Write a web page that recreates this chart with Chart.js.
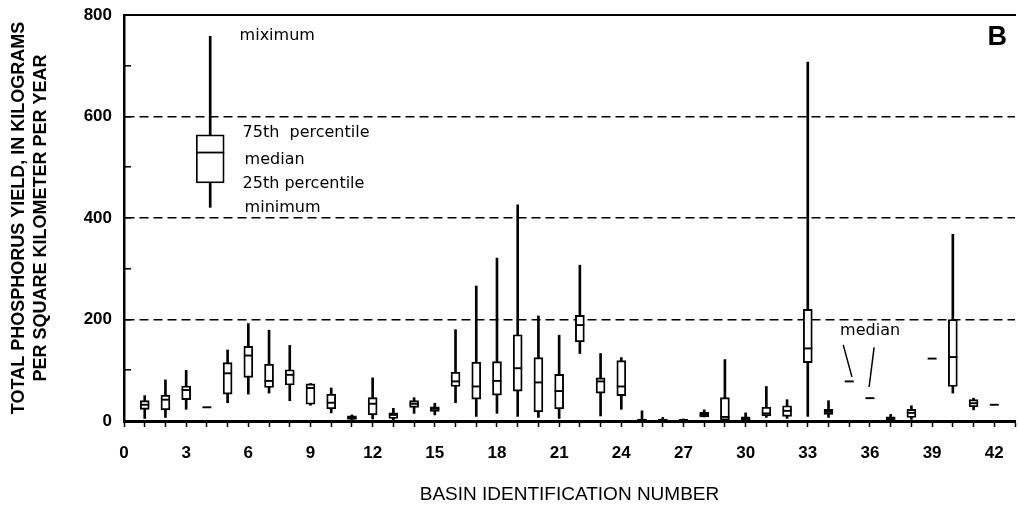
<!DOCTYPE html>
<html>
<head>
    <meta charset="UTF-8">
    <title>Total phosphorus yield by basin</title>
    <script src="https://cdn.jsdelivr.net/npm/chart.js@4.4.1/dist/chart.umd.min.js"></script>
    <style>
        html, body { margin: 0; padding: 0; background: #fff; }
        #wrap { width: 1018px; height: 508px; position: relative; }
    </style>
</head>
<body>

<div id="wrap">
    <canvas id="myChart"></canvas>
</div>

<script>
    // values, one entry per basin
    var basins  = [1,2,3,4,5,6,7,8,9,10,11,12,13,14,15,16,17,18,19,20,21,22,23,24,25,26,27,28,29,30,31,32,33,34,35,36,37,38,39,40,41,42];
    var minVals = [5,7,23,27,36,53,55,40,31,16,1,4,1,15,12,36,9,15,9,7,5,133,10,23,0,0,1,8,0,1,7,5,9,7,78,45,1,3,123,55,22,32];
    var q1Vals  = [23,22,42,27,53,86,66,71,33,24,3,12,5,27,19,68,43,51,59,18,24,156,55,50,1,1,1,8,2,2,10,9,115,13,78,45,2,7,123,68,28,32];
    var medVals = [32,42,61,27,94,129,79,91,65,36,6,34,12,34,24,78,68,79,104,76,59,189,78,68,2,2,2,12,8,4,15,20,143,18,78,45,5,16,123,126,35,32];
    var q3Vals  = [40,51,69,27,115,147,112,101,73,53,10,46,16,40,28,96,116,117,170,125,92,208,85,119,4,4,3,17,46,8,27,30,220,23,78,45,8,23,123,200,42,32];
    var maxVals = [50,81,100,27,140,192,179,149,74,65,12,85,25,46,35,180,266,321,426,207,169,307,133,125,20,7,4,22,121,16,68,42,707,40,78,45,13,30,123,368,45,32];

    // explanation box drawn in the upper left: min, q1, median, q3, max
    var legendX = 4.16;
    var legendStats = [421, 469, 529, 564, 758];
    var legendLabels = ['miximum', '75th  percentile', 'median', '25th percentile', 'minimum'];
    var medianNote = 'median';

    var xTickLabels = [0,3,6,9,12,15,18,21,24,27,30,33,36,39,42];
    var yTickLabels = [0,200,400,600,800];
    var dashedAt = [200,400,600];

    function pairs(lo, hi) {
        return basins.map(function(b, i) { return {x: b, y: [lo[i], hi[i]]}; });
    }

    // no extra room for edge labels, the plot runs right up to the frame
    function noEdgePad(s) {
        s.paddingLeft = 0; s.paddingRight = 0; s.paddingTop = 0; s.paddingBottom = 0;
    }

    var notesPlugin = {
        id: 'notes',
        afterDatasetsDraw: function(chart) {
            var ctx = chart.ctx, xs = chart.scales.x, ys = chart.scales.y;
            var px = function(v) { return xs.getPixelForValue(v); };
            var py = function(v) { return ys.getPixelForValue(v); };
            ctx.save();
            ctx.fillStyle = '#000';
            ctx.strokeStyle = '#000';
            ctx.textBaseline = 'middle';
            ctx.textAlign = 'left';
            ctx.font = '16px "DejaVu Sans"';
            var spots = [[5.58, 758], [5.72, 567], [5.82, 515], [5.72, 467], [5.82, 420]];
            legendLabels.forEach(function(t, i) {
                ctx.fillText(t, px(spots[i][0]), py(spots[i][1]));
            });
            ctx.fillText(medianNote, px(34.56), py(178));
            // leader lines to the lone medians of basins 35 and 36
            ctx.lineWidth = 1.5;
            ctx.beginPath();
            ctx.moveTo(px(34.71), py(150)); ctx.lineTo(px(35.13), py(87));
            ctx.moveTo(px(36.2), py(145)); ctx.lineTo(px(35.96), py(67));
            ctx.stroke();
            ctx.font = 'bold 27px "Liberation Sans"';
            ctx.textAlign = 'right';
            ctx.fillText('B', chart.chartArea.right - 8, chart.chartArea.top + 23);
            ctx.restore();
        }
    };

    var tickFont = { family: 'Liberation Sans', size: 17, weight: 'bold' };
    var titleFont = { family: 'Liberation Sans', size: 19 };

    new Chart('myChart', {
        type: 'bar',
        data: {
            datasets: [
                { // legend box
                    data: [{x: legendX, y: [legendStats[1], legendStats[3]]}],
                    backgroundColor: '#fff', borderColor: '#000', borderWidth: 1.8,
                    borderSkipped: false, barThickness: 28, grouped: false, order: 1
                },
                {
                    data: [{x: legendX, y: [legendStats[0], legendStats[4]]}],
                    backgroundColor: '#000', borderWidth: 0,
                    barThickness: 2, grouped: false, order: 2
                },
                {
                    type: 'line', showLine: false,
                    data: [{x: legendX, y: legendStats[2]}],
                    pointStyle: 'line', pointRadius: 14, pointBorderWidth: 1.8,
                    pointBorderColor: '#000', borderColor: '#000', order: 0
                },
                { // boxes q1..q3
                    data: pairs(q1Vals, q3Vals),
                    backgroundColor: '#fff', borderColor: '#000', borderWidth: 1.9,
                    borderSkipped: false, barThickness: 9, grouped: false, order: 1
                },
                { // whiskers min..max
                    data: pairs(minVals, maxVals),
                    backgroundColor: '#000', borderWidth: 0,
                    barThickness: 2, grouped: false, order: 2
                },
                { // medians
                    type: 'line', showLine: false,
                    data: basins.map(function(b, i) { return {x: b, y: medVals[i]}; }),
                    pointStyle: 'line', pointRadius: 4.5, pointBorderWidth: 1.9,
                    pointBorderColor: '#000', borderColor: '#000', order: 0
                }
            ]
        },
        options: {
            responsive: true,
            maintainAspectRatio: false,
            animation: false,
            events: [],
            layout: { autoPadding: false, padding: { left: 0, right: 3, top: 0, bottom: 0 } },
            plugins: { legend: { display: false }, tooltip: { enabled: false } },
            scales: {
                x: {
                    type: 'linear', position: 'bottom', min: 0, max: 43, offset: false,
                    grid: { offset: false, drawOnChartArea: false, drawTicks: true, tickLength: 6, tickColor: '#000', tickWidth: 1.5 },
                    border: { display: true, color: '#000', width: 3 },
                    ticks: {
                        stepSize: 1, autoSkip: false, maxRotation: 0, padding: 16,
                        color: '#000', font: tickFont,
                        callback: function(v) { return xTickLabels.indexOf(v) >= 0 ? String(v) : ''; }
                    },
                    title: { display: true, text: 'BASIN IDENTIFICATION NUMBER', color: '#000', font: titleFont, padding: { top: 0, bottom: 2 } },
                    afterFit: function(s) { s.height = 87; noEdgePad(s); }
                },
                xTop: {
                    type: 'linear', axis: 'x', position: 'top', min: 0, max: 43, offset: false,
                    grid: { display: false, offset: false },
                    border: { display: true, color: '#000', width: 2 },
                    ticks: { display: false },
                    afterFit: function(s) { s.height = 15; noEdgePad(s); }
                },
                y: {
                    type: 'linear', min: 0, max: 800,
                    grid: {
                        color: function(c) { return c.tick && dashedAt.indexOf(c.tick.value) >= 0 ? '#000' : 'rgba(0,0,0,0)'; },
                        lineWidth: 1.6, drawTicks: true, tickLength: -7, tickColor: '#000', tickWidth: 1.5
                    },
                    border: { display: true, color: '#000', width: 2.5, dash: [9, 5] },
                    ticks: {
                        stepSize: 100, padding: 19, color: '#000', font: tickFont,
                        callback: function(v) { return yTickLabels.indexOf(v) >= 0 ? String(v) : ''; }
                    },
                    title: {
                        display: true, color: '#000', padding: { top: 8.5, bottom: 0 },
                        font: { family: 'Liberation Sans', size: 18, weight: 'bold' },
                        text: ['TOTAL PHOSPHORUS YIELD, IN KILOGRAMS', 'PER SQUARE KILOMETER PER YEAR']
                    },
                    afterFit: function(s) { s.width = 124; noEdgePad(s); }
                }
            }
        },
        plugins: [notesPlugin]
    });
</script>

</body>
</html>
